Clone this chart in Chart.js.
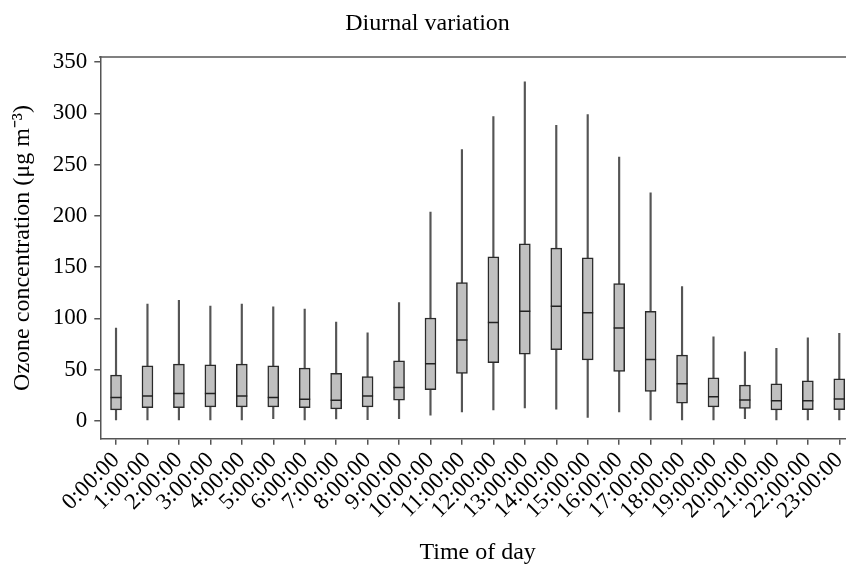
<!DOCTYPE html>
<html lang="en">
  <head>
    <meta charset="UTF-8" />
    <title>Diurnal variation</title>
    <script src="https://cdn.jsdelivr.net/npm/chart.js@4.4.1/dist/chart.umd.min.js"></script>
    <style>
      html, body { margin: 0; padding: 0; background: #fff; overflow: hidden; }
      #wrap { width: 846px; height: 564px; overflow: hidden; }
      #box { width: 868px; height: 567px; }
    </style>
  </head>
  <body>
    <div id="wrap"><div id="box"><canvas id="myChart"></canvas></div></div>
    <script>
      // hours of the day (x categories)
      const hours = ["0:00:00", "1:00:00", "2:00:00", "3:00:00", "4:00:00", "5:00:00",
        "6:00:00", "7:00:00", "8:00:00", "9:00:00", "10:00:00", "11:00:00",
        "12:00:00", "13:00:00", "14:00:00", "15:00:00", "16:00:00", "17:00:00",
        "18:00:00", "19:00:00", "20:00:00", "21:00:00", "22:00:00", "23:00:00"];

      // box plot statistics, ozone in ug m-3
      const whiskerLow = [1, 1, 1, 1, 1, 2.3, 1, 2, 1.3, 2.3, 5.5, 8.8,
        10.8, 12.7, 11.4, 3.3, 8.8, 1, 1, 1, 2.3, 1, 1, 1];
      const q1 = [10.8, 13, 13, 13.7, 13.7, 13.7, 13, 11.7, 13.7, 20.2, 30.6, 46.3,
        56.7, 65.2, 69.4, 59.6, 48.2, 28.7, 17.3, 13.7, 12.1, 10.8, 11, 11];
      const median = [22.8, 24.4, 26.7, 26.7, 24.4, 22.8, 21.2, 20.2, 24.4, 32.6, 55.7, 78.9,
        96.1, 106.9, 111.8, 105.6, 90.6, 59.9, 36.2, 23.5, 20.5, 19.6, 19.6, 21.5];
      const q3 = [44.6, 53.8, 55.4, 54.7, 55.4, 53.8, 51.5, 46.3, 43.3, 58.7, 100.4, 134.9,
        160, 172.7, 168.5, 159, 133.9, 106.9, 64.2, 42, 34.9, 36.2, 39.1, 41.1];
      const whiskerHigh = [90.6, 114, 117.6, 112, 114, 111.4, 109.2, 96.5, 86, 115.4, 203.7, 264.6,
        296.9, 330.8, 288.4, 298.8, 257.4, 222.6, 131, 82.1, 67.5, 70.7, 81.1, 85.4];

      const yTicks = [0, 50, 100, 150, 200, 250, 300, 350];

      const serif = "'Liberation Serif', 'Times New Roman', serif";

      const ctx = document.getElementById("myChart").getContext("2d");

      let chart = new Chart(ctx, {
        type: "bar",
        data: {
          labels: hours,
          datasets: [
            {
              // whiskers
              data: hours.map((h, i) => [whiskerLow[i], whiskerHigh[i]]),
              backgroundColor: "#555",
              borderWidth: 0,
              barThickness: 1.5,
              grouped: false,
              order: 3,
            },
            {
              // boxes
              data: hours.map((h, i) => [q1[i], q3[i]]),
              backgroundColor: "#c0c0c0",
              borderColor: "#2a2a2a",
              borderWidth: 1.5,
              borderSkipped: false,
              barThickness: 11,
              grouped: false,
              order: 2,
            },
            {
              // medians
              type: "line",
              data: median,
              showLine: false,
              pointStyle: "line",
              pointRadius: 5.5,
              pointBorderColor: "#222",
              pointBorderWidth: 1.5,
              order: 1,
            },
          ],
        },
        options: {
          responsive: true,
          maintainAspectRatio: false,
          animation: false,
          layout: { padding: { right: 13 } },
          plugins: {
            legend: { display: false },
            tooltip: { enabled: false },
            title: {
              display: true,
              text: "Diurnal variation",
              color: "#000",
              font: { family: serif, size: 24, weight: "normal" },
              padding: { top: 9.5, bottom: 18.7 },
            },
          },
          scales: {
            x: {
              type: "category",
              offset: true,
              grid: {
                offset: false,
                drawOnChartArea: false,
                tickLength: 6,
                color: "#555",
                lineWidth: 1.5,
              },
              border: { color: "#555", width: 1.5 },
              ticks: {
                autoSkip: false,
                minRotation: 45,
                maxRotation: 45,
                padding: 2,
                color: "#000",
                font: { family: serif, size: 23 },
              },
              title: {
                display: true,
                text: "Time of day",
                color: "#000",
                font: { family: serif, size: 24 },
                padding: { top: 12, bottom: 0 },
              },
            },
            xTop: {
              type: "category",
              position: "top",
              offset: true,
              grid: { display: false, drawTicks: false },
              ticks: { display: false },
              border: { color: "#808080", width: 2 },
            },
            y: {
              type: "linear",
              min: -17.5,
              max: 355,
              afterBuildTicks: (s) => {
                s.ticks = yTicks.map((v) => ({ value: v }));
              },
              grid: {
                drawOnChartArea: false,
                tickLength: 6,
                color: "#555",
                lineWidth: 1.5,
              },
              border: { color: "#555", width: 1.5 },
              ticks: {
                padding: 7,
                color: "#000",
                font: { family: serif, size: 23 },
              },
              title: {
                display: true,
                text: "Ozone concentration (μg m⁻³)",
                color: "#000",
                font: { family: serif, size: 24 },
                padding: { top: 8, bottom: 9 },
              },
            },
          },
        },
      });
    </script>
  </body>
</html>
